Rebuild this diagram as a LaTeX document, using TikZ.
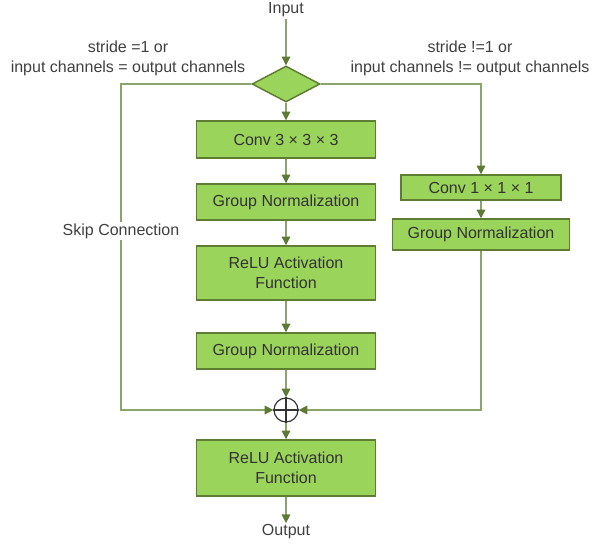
\documentclass[tikz,border=0pt]{standalone}
\usepackage{fontspec}
\setmainfont{Liberation Sans}
\usetikzlibrary{arrows.meta,shapes.geometric,calc}
\definecolor{boxfill}{HTML}{9BD45A}
\definecolor{boxdraw}{HTML}{5E7D32}
\definecolor{linecol}{HTML}{8CA46C}
\definecolor{tipcol}{HTML}{5E7A35}
\definecolor{txt}{HTML}{333333}
\definecolor{lbl}{HTML}{404040}
\tikzset{
  px/.style={x=0.75pt,y=-0.75pt},
  blk/.style={draw=boxdraw,fill=boxfill,line width=1.1pt,text=txt,align=center,inner sep=0pt,
     font=\fontsize{12}{15}\selectfont},
  lab/.style={text=lbl,align=center,inner sep=1pt,font=\fontsize{12}{15}\selectfont},
  conn/.style={draw=linecol,line width=0.9pt,-{Triangle[length=6.5pt,width=6.5pt,color=tipcol]}},
  plain/.style={draw=linecol,line width=0.9pt},
}
\begin{document}
\begin{tikzpicture}[px]
\useasboundingbox (0,0) rectangle (608,544);
% nodes
\node[lab] (input) at (286,10) {Input};
\node[draw=boxdraw,fill=boxfill,line width=1.1pt,diamond,minimum width=51pt,minimum height=27pt,inner sep=0pt] (dia) at (286,84) {};
\node[blk,minimum width=134.25pt,minimum height=27.75pt] (conv3) at (286,139.5) {Conv 3 × 3 × 3};
\node[blk,minimum width=134.25pt,minimum height=27pt] (gn1) at (286,202) {Group Normalization};
\node[blk,minimum width=134.25pt,minimum height=40.5pt] (relu1) at (286,273) {ReLU Activation\\Function};
\node[blk,minimum width=134.25pt,minimum height=27pt] (gn2) at (286,351) {Group Normalization};
\node[draw=black!80,fill=white,circle,line width=0.9pt,minimum size=18pt,inner sep=0pt] (plus) at (286,410) {};
\draw[black!80,line width=0.9pt] (plus.north) -- (plus.south) (plus.west) -- (plus.east);
\node[blk,minimum width=134.25pt,minimum height=42pt] (relu2) at (286,468) {ReLU Activation\\Function};
\node[lab] (output) at (286,532) {Output};
\node[blk,minimum width=120pt,minimum height=18.75pt] (conv1) at (481,187.5) {Conv 1 × 1 × 1};
\node[blk,minimum width=132.75pt,minimum height=23.25pt] (gnr) at (481,234.5) {Group Normalization};
\coordinate (skipc) at (121,410);
\node[lab] (lcond) at (128,58) {stride =1 or\\input channels = output channels};
\node[lab] (rcond) at (470,58) {stride !=1 or\\input channels != output channels};
% connectors
\draw[conn] (input) -- (dia.north);
\draw[conn] (dia.south) -- (conv3.north);
\draw[conn] (conv3) -- (gn1);
\draw[conn] (gn1) -- (relu1);
\draw[conn] (relu1) -- (gn2);
\draw[conn] (gn2) -- (plus);
\draw[conn] (plus) -- (relu2);
\draw[conn] (relu2) -- (output);
\draw[conn] (dia.west) -| (skipc) -- (plus.west);
\draw[conn] (dia.east) -| (conv1.north);
\draw[conn] (conv1) -- (gnr);
\draw[conn] (gnr.south) |- (plus.east);
\node[lab,fill=white] (skip) at (121,231) {Skip Connection};
\end{tikzpicture}
\end{document}
